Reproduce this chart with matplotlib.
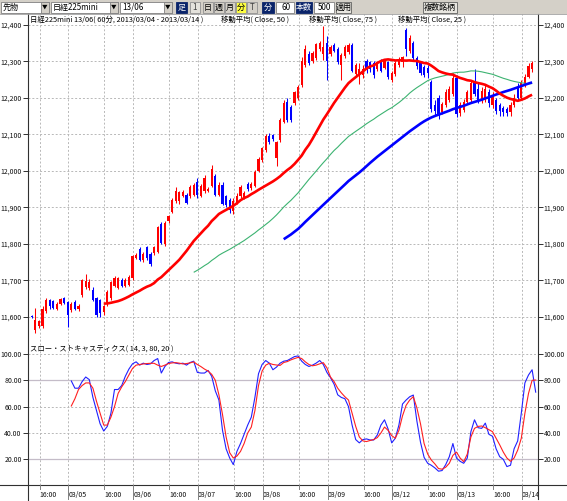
import matplotlib.pyplot as plt
from matplotlib.patches import Rectangle
import numpy as np
import pandas as pd

plt.rcParams['font.family'] = ['Noto Sans CJK JP', 'DejaVu Sans']

W, H = 567, 501

# 60-minute bars, index 0..143 (bars 0-4 sit left of the visible area)
opens = [11640, 11655, 11650, 11645, 11602, 11562, 11575, 11573, 11615, 11645,
         11642, 11622, 11635, 11652, 11640, 11618, 11640, 11620, 11660, 11680,
         11678, 11673, 11650, 11645, 11612, 11637, 11650, 11685, 11678, 11700,
         11683, 11688, 11706, 11762, 11785, 11755, 11790, 11772, 11775, 11778,
         11855, 11800, 11862, 11888, 11917, 11918, 11932, 11935, 11930, 11935,
         11970, 11932, 11945, 11945, 11958, 11985, 11935, 11962, 11930, 11920,
         11890, 11912, 11930, 11928, 11965, 11952, 11958, 12000, 12030, 12058,
         12096, 12098, 12034, 12085, 12135, 12190, 12175, 12185, 12200, 12235,
         12290, 12320, 12300, 12310, 12333, 12320, 12350, 12320, 12345, 12335,
         12290, 12315, 12325, 12345, 12265, 12265, 12264, 12300, 12298, 12296,
         12280, 12302, 12282, 12298, 12250, 12265, 12290, 12298, 12385, 12330,
         12350, 12310, 12295, 12285, 12282, 12245, 12180, 12200, 12160, 12180,
         12195, 12210, 12255, 12158, 12168, 12190, 12195, 12245, 12225, 12192,
         12200, 12215, 12180, 12195, 12180, 12172, 12170, 12160, 12180, 12230,
         12200, 12235, 12258, 12278]
highs = [11660, 11662, 11655, 11658, 11604, 11625, 11592, 11628, 11652, 11648,
         11645, 11640, 11652, 11655, 11643, 11640, 11645, 11634, 11703, 11717,
         11702, 11680, 11655, 11648, 11632, 11672, 11698, 11712, 11710, 11705,
         11705, 11715, 11768, 11775, 11790, 11778, 11795, 11776, 11795, 11850,
         11860, 11862, 11880, 11925, 11955, 11945, 11947, 11940, 11962, 11966,
         11980, 11963, 11988, 11955, 12015, 11990, 11968, 11968, 11935, 11925,
         11925, 11938, 11960, 11945, 11970, 11970, 12003, 12038, 12066, 12100,
         12104, 12100, 12082, 12145, 12195, 12200, 12180, 12220, 12235, 12312,
         12345, 12330, 12328, 12352, 12355, 12398, 12370, 12345, 12350, 12340,
         12322, 12345, 12350, 12350, 12295, 12295, 12290, 12308, 12302, 12300,
         12302, 12308, 12306, 12302, 12275, 12302, 12312, 12315, 12392, 12372,
         12355, 12315, 12300, 12290, 12290, 12250, 12195, 12208, 12190, 12225,
         12232, 12268, 12262, 12190, 12198, 12222, 12250, 12278, 12240, 12230,
         12235, 12225, 12215, 12200, 12185, 12178, 12175, 12190, 12210, 12240,
         12250, 12265, 12295, 12300]
lows = [11635, 11640, 11638, 11640, 11596, 11555, 11570, 11570, 11610, 11622,
        11620, 11618, 11632, 11634, 11572, 11612, 11618, 11616, 11655, 11675,
        11672, 11642, 11600, 11600, 11605, 11630, 11645, 11680, 11675, 11680,
        11680, 11685, 11700, 11758, 11752, 11750, 11755, 11740, 11770, 11775,
        11798, 11795, 11858, 11885, 11912, 11910, 11928, 11908, 11925, 11932,
        11925, 11928, 11940, 11942, 11955, 11930, 11930, 11905, 11900, 11885,
        11882, 11908, 11925, 11922, 11945, 11948, 11955, 11996, 12025, 12052,
        12074, 12082, 12012, 12080, 12130, 12135, 12135, 12180, 12195, 12230,
        12285, 12290, 12296, 12305, 12328, 12305, 12248, 12315, 12325, 12292,
        12248, 12310, 12320, 12270, 12260, 12238, 12255, 12267, 12272, 12255,
        12275, 12270, 12278, 12252, 12243, 12260, 12285, 12285, 12315, 12322,
        12305, 12280, 12262, 12258, 12255, 12160, 12150, 12142, 12155, 12175,
        12190, 12205, 12148, 12150, 12162, 12185, 12190, 12205, 12185, 12185,
        12190, 12175, 12172, 12155, 12150, 12150, 12150, 12150, 12175, 12195,
        12195, 12230, 12255, 12272]
closes = [11655, 11650, 11645, 11650, 11598, 11590, 11588, 11622, 11646, 11628,
          11625, 11635, 11648, 11638, 11605, 11635, 11622, 11630, 11700, 11697,
          11696, 11646, 11605, 11610, 11628, 11668, 11695, 11705, 11705, 11685,
          11700, 11710, 11765, 11770, 11755, 11772, 11762, 11745, 11790, 11845,
          11802, 11858, 11875, 11920, 11945, 11942, 11943, 11912, 11955, 11960,
          11935, 11958, 11980, 11950, 12005, 11935, 11962, 11910, 11905, 11892,
          11918, 11932, 11955, 11938, 11950, 11965, 11998, 12033, 12062, 12095,
          12080, 12088, 12078, 12140, 12185, 12140, 12140, 12215, 12230, 12300,
          12335, 12295, 12322, 12348, 12350, 12340, 12300, 12340, 12330, 12298,
          12318, 12340, 12345, 12275, 12290, 12280, 12280, 12282, 12278, 12262,
          12298, 12275, 12302, 12258, 12268, 12295, 12308, 12312, 12335, 12365,
          12310, 12288, 12268, 12262, 12268, 12170, 12165, 12150, 12182, 12215,
          12225, 12255, 12155, 12180, 12188, 12215, 12240, 12210, 12190, 12218,
          12225, 12185, 12205, 12165, 12165, 12160, 12158, 12180, 12200, 12200,
          12240, 12258, 12288, 12296]

# slow stochastics (14, 3), values from bar 15 onward
stoch_start = 15
stoch_k = [79.5, 74, 74, 79, 82.5, 80.5, 67, 57, 47, 41.5,
           45, 55, 73, 73, 76, 83, 88.5, 92.5, 94, 91.5,
           93, 92, 92.5, 95, 96.5, 85.5, 90.5, 93.5, 94, 93,
           92.5, 93, 91.5, 93.5, 94.5, 86, 85.5, 85.5, 87.5, 83,
           72, 65, 42, 28, 21, 16, 26, 32, 39, 46,
           52, 67, 85, 92, 95, 93, 88, 90, 93, 94.5,
           95, 96.5, 98, 98.5, 94.5, 92, 90.5, 91.5, 93, 95,
           92, 86, 82, 77, 69, 67, 66, 60, 46, 35,
           32.5, 35, 35.5, 34.7, 34.7, 38.5, 46, 50, 43, 32.5,
           36, 46, 62, 65, 67.5, 68.8, 49, 33, 21.5, 17,
           15.5, 13.5, 11, 11.5, 16, 22, 32, 21, 18.5, 17,
           21, 41, 50, 44, 43.5, 47.5, 39, 37.5, 28, 22,
           20, 14.5, 15.5, 28, 34, 55, 78, 84, 88, 71]
stoch_d = [60.5, 66, 73, 76, 78, 78, 74, 64, 55, 46,
           46, 52, 60, 70, 75, 79, 84, 89, 91.5, 92,
           92.4, 92.7, 92.9, 92.9, 91.5, 90.5, 91.5, 92.7, 93.2, 93.4,
           93, 92.4, 92.7, 93.2, 94, 92, 90.4, 88.5, 87, 84.5,
           80, 69, 54, 37, 25, 21, 22.5, 26, 32, 40,
           44.5, 57, 76, 87, 91.5, 92.9, 92, 91.6, 91.3, 93.5,
           94.2, 95.5, 96.5, 97.4, 96.5, 94, 92, 91, 91.5, 92.5,
           93.4, 89.5, 82.5, 79, 74, 70.5, 67.5, 65, 55, 45,
           37, 34, 33.5, 34.3, 35, 36.5, 40, 44.5, 42, 38,
           36, 42, 53, 61, 65, 67.6, 59, 47, 32, 24,
           19.5, 16.5, 13, 12.5, 14, 17, 23, 25.5, 21, 18.2,
           24, 37, 43.5, 45, 45.3, 44, 42.5, 41, 36, 31,
           25.5, 21, 18.5, 21, 27, 36, 55, 70, 80, 80.2]

ma_periods = [50, 75, 25]
ma_colors = ['#3cb371', '#0000ff', '#ff0000']
ma_widths = [0.8, 1.9, 1.9]

price_ticks = [11600, 11700, 11800, 11900, 12000, 12100, 12200, 12300, 12400]
stoch_ticks = [20, 40, 60, 80, 100]
time_pos = [6.2, 14.2, 24.2, 32.2, 42.2, 50.2, 60.2, 68.2,
            78.2, 86.2, 96.2, 104.2, 114.2, 122.2, 132.2, 140.2]
time_labels = ['16:00', '03/05', '16:00', '03/06', '16:00', '03/07', '16:00', '03/08',
               '16:00', '03/09', '16:00', '03/12', '16:00', '03/13', '16:00', '03/14']

fig = plt.figure(figsize=(W / 100, H / 100), dpi=100)
fig.patch.set_facecolor('white')


def fx(px):
    return px / W


def fy(py):
    return 1 - py / H


left, right = 28, 537.5
ax = fig.add_axes([fx(left), fy(338), (right - left) / W, (338 - 14) / H])
ax2 = fig.add_axes([fx(left), fy(484.5), (right - left) / W, (484.5 - 338) / H])

fs = 5.0
grid_kw = dict(color='#b8b8b8', linestyle=(0, (2, 2)), linewidth=0.7)

# candles
idx = np.arange(len(closes))
o, h, l, c = map(np.array, (opens, highs, lows, closes))
cols = np.where(c >= o, '#ff0000', '#0000ff')
vis = idx >= 4
ax.vlines(idx[vis], l[vis], h[vis], colors=cols[vis], linewidth=0.75, zorder=3)
body_lo = np.minimum(o, c)
body_h = np.maximum(np.abs(c - o), 3)
ax.bar(idx[vis], body_h[vis], bottom=body_lo[vis], width=0.6, color=cols[vis],
       linewidth=0, zorder=3)

# moving averages
close_s = pd.Series(closes, dtype=float)
for n, col, lw in zip(ma_periods, ma_colors, ma_widths):
    ax.plot(idx, close_s.rolling(n).mean(), color=col, lw=lw, zorder=4,
            solid_capstyle='butt')

ax.set_ylim(11541.4, 12430.2)
ax.set_yticks(price_ticks)
ax.set_yticklabels([f'{v:,}' for v in price_ticks])

# stochastics
sx = np.arange(stoch_start, stoch_start + len(stoch_k))
ax2.plot(sx, stoch_k, color='#2020ff', lw=0.8, zorder=4)
ax2.plot(sx, stoch_d, color='#ff2020', lw=0.8, zorder=4)
for lv in (80, 20):
    ax2.axhline(lv, color='#c4bcc8', lw=0.9, zorder=2)
ax2.set_ylim(0.9, 112.1)
ax2.set_yticks(stoch_ticks)
ax2.set_yticklabels([f'{v:.2f}' for v in stoch_ticks])

for a in (ax, ax2):
    a.set_xlim(2.97, 144.5)
    a.set_xticks(time_pos)
    a.grid(True, **grid_kw)
    a.set_axisbelow(True)
    for sp in a.spines.values():
        sp.set_visible(False)
    a.tick_params(axis='y', which='both', left=True, right=True, labelleft=True,
                  labelright=True, direction='out', length=3.5, width=0.7,
                  color='#303030', labelsize=fs, pad=1.0, labelcolor='#101010')

ax.tick_params(axis='x', bottom=False, labelbottom=False)
ax2.set_xticklabels(time_labels)
ax2.tick_params(axis='x', length=0, labelsize=fs, pad=5, labelcolor='#101010')
for t in ax2.get_xticklabels():
    t.set_horizontalalignment('left')

# titles inside the panels
fig.text(fx(30), fy(19.5), '日経225mini 13/06( 60分, 2013/03/04 - 2013/03/14 )',
         fontsize=fs + 0.3, va='center', ha='left')
fig.text(fx(221), fy(19.5), '移動平均( Close, 50 )', fontsize=fs + 0.3, va='center', ha='left')
fig.text(fx(309), fy(19.5), '移動平均( Close, 75 )', fontsize=fs + 0.3, va='center', ha='left')
fig.text(fx(398), fy(19.5), '移動平均( Close, 25 )', fontsize=fs + 0.3, va='center', ha='left')
fig.text(fx(30), fy(348.5), 'スロー・ストキャスティクス( 14, 3, 80, 20 )',
         fontsize=fs + 0.3, va='center', ha='left')

# overlay in pixel coordinates for frame lines and the toolbar
ov = fig.add_axes([0, 0, 1, 1])
ov.set_xlim(0, W)
ov.set_ylim(H, 0)
ov.axis('off')
ov.patch.set_alpha(0)

ov.add_patch(Rectangle((right, 486), W - right, H - 486, fc='white', ec='none'))
ov.plot([left, left], [14, H], color='#303030', lw=0.8)
ov.plot([right, right], [14, 499], color='#303030', lw=0.8)
ov.plot([0, W], [484.5, 484.5], color='#303030', lw=0.8)
for p in time_pos:
    xp = 17.3 + 3.6 * p
    ln = 14 if p in (14.2, 32.2, 50.2, 68.2, 86.2, 104.2, 122.2, 140.2) else 4
    ov.plot([xp, xp], [484.5, 484.5 + ln], color='#808080', lw=0.7)

# toolbar
ov.add_patch(Rectangle((0, 0), W, 14, fc='#d4d0c8', ec='none'))
ov.plot([0, W], [14, 14], color='#a0a0a0', lw=0.6)


def box(x0, x1, fc='white', ec='#808080'):
    ov.add_patch(Rectangle((x0, 1.5), x1 - x0, 11, fc=fc, ec=ec, lw=0.6))


def label(x, s, color='black', ha='left', size=5.8):
    ov.text(x, 7.2, s, color=color, ha=ha, va='center', fontsize=size)


for x0, x1, s in [(1, 49, '先物'), (51, 118, '日経225mini'), (120, 172, '13/06')]:
    box(x0, x1)
    label(x0 + 2, s)
    box(x1 - 8, x1, fc='#d4d0c8')
    label(x1 - 4, '▼', ha='center', size=4)

box(176, 187, fc='#0a246a', ec='#0a246a')
label(181.5, '足', color='white', ha='center')
for x0, s, fc in [(190, '1', '#e4e2dc'), (203, '日', '#d4d0c8'), (214, '週', '#d4d0c8'),
                  (225, '月', '#d4d0c8'), (236, '分', '#ffff40'), (247, 'T', '#d4d0c8')]:
    box(x0, x0 + 10, fc=fc, ec='#909090')
    label(x0 + 5, s, ha='center', color='#404040' if s in ('1', 'T') else 'black')
box(262, 274, fc='#0a246a', ec='#0a246a')
label(268, '分', color='white', ha='center')
box(276, 294)
label(291, '60', ha='right')
box(296, 312, fc='#0a246a', ec='#0a246a')
label(304, '本数', color='white', ha='center')
box(314, 334)
label(331, '500', ha='right')
box(336, 351, fc='#e8e6e0', ec='#606060')
label(343.5, '適用', ha='center')
box(423, 457, fc='#e8e6e0', ec='#606060')
label(440, '複数銘柄', ha='center')

fig.savefig('out.png', dpi=100)
